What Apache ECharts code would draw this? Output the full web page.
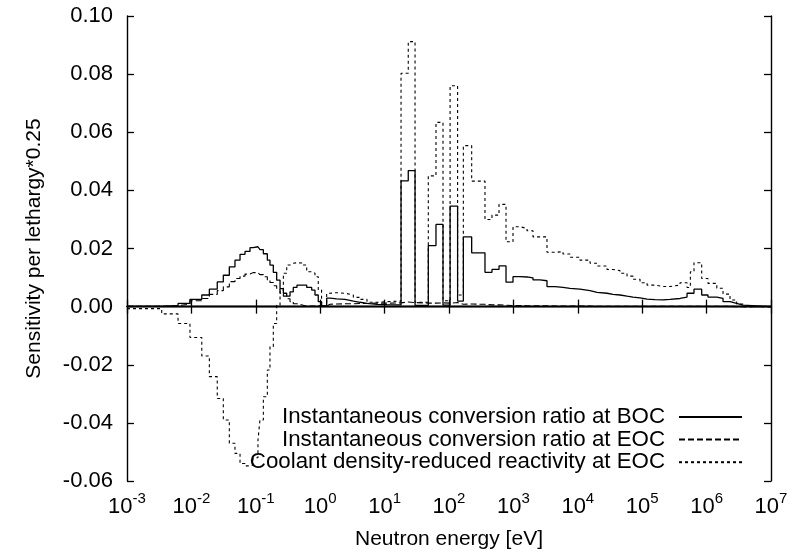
<!DOCTYPE html>
<html>
<head>
<meta charset="utf-8">
<script src="https://cdn.jsdelivr.net/npm/echarts@6/dist/echarts.min.js"></script>
<style>
html,body{margin:0;padding:0;background:#fff;}
#chart{width:792px;height:558px;}
</style>
</head>
<body>
<div id="chart"></div>
<script>
// Bin lower edges (neutron energy, eV); last entry is the upper edge of the last bin
const energyEdges = [
  1.0e-3, 3.46e-3, 6.2e-3, 9.5e-3, 0.0145, 0.019, 0.0252, 0.0313, 0.0388, 0.0475,
  0.0569, 0.068, 0.0813, 0.0905, 0.108, 0.116, 0.131, 0.151, 0.166, 0.187,
  0.211, 0.238, 0.268, 0.302, 0.34, 0.382, 0.436, 0.541, 0.617, 0.738,
  0.83, 0.933, 1.05, 1.26, 1.42, 1.80, 2.43, 3.27, 4.15, 5.33,
  7.62, 10.9, 18.0, 23.3, 29.7, 47.7, 62.8, 80.7, 104, 136,
  167, 225, 362, 465, 598, 768, 986, 1266, 1626, 2015,
  2588, 3323, 4427, 5891, 7566, 1.08e4, 1.55e4, 1.99e4, 2.84e4, 3.52e4,
  4.52e4, 5.81e4, 7.2e4, 9.25e4, 1.19e5, 1.58e5, 2.1e5, 2.7e5, 3.87e5, 4.97e5,
  5.6e5, 6.37e5, 8.39e5, 1.05e6, 1.44e6, 1.8e6, 2.31e6, 2.93e6, 3.67e6, 1.0e7
];
const bocValues = [
  0.0001, 0.0003, 0.0011, 0.0025, 0.0040, 0.0060, 0.0085, 0.0108, 0.0137, 0.0160,
  0.0180, 0.0190, 0.0203, 0.0206, 0.0203, 0.0196, 0.0182, 0.0160, 0.0143, 0.0118,
  0.0091, 0.0062, 0.0046, 0.0036, 0.0051, 0.0066, 0.0074, 0.0074, 0.0066, 0.0057,
  0.0040, 0.0017, 0.0001, 0.0029, 0.0027, 0.0025, 0.0019, 0.0015, 0.0011, 0.0008,
  0.0007, 0.0006, 0.0433, 0.0468, 0.0004, 0.0210, 0.0283, 0.0005, 0.0346, 0.0019,
  0.0240, 0.0185, 0.0118, 0.0128, 0.0140, 0.0084, 0.0103, 0.0102, 0.0099, 0.0092,
  0.0089, 0.0069, 0.0066, 0.0063, 0.0060, 0.0055, 0.0049, 0.0046, 0.0042, 0.0040,
  0.0036, 0.0033, 0.0030, 0.0026, 0.0024, 0.0023, 0.0025, 0.0028, 0.0033, 0.0046,
  0.0046, 0.0060, 0.0040, 0.0033, 0.0028, 0.0017, 0.0011, 0.0005, 0.0000
];
const eocValues = [
  0.0001, 0.0003, 0.0009, 0.0020, 0.0028, 0.0042, 0.0055, 0.0068, 0.0086, 0.0097,
  0.0105, 0.0112, 0.0117, 0.0117, 0.0114, 0.0110, 0.0103, 0.0092, 0.0083, 0.0072,
  0.0060, 0.0046, 0.0036, 0.0027, 0.0017, 0.0010, 0.0005, 0.0002, 0.0002, 0.0002,
  0.0003, 0.0003, 0.0002, 0.0008, 0.0009, 0.0010, 0.0010, 0.0011, 0.0011, 0.0012,
  0.0012, 0.0013, 0.0016, 0.0014, 0.0012, 0.0012, 0.0013, 0.0012, 0.0014, 0.0008,
  0.0009, 0.0008, 0.0006, 0.0006, 0.0005, 0.0004, 0.0004, 0.0003, 0.0003, 0.0003,
  0.0003, 0.0002, 0.0002, 0.0002, 0.0002, 0.0002, 0.0001, 0.0001, 0.0001, 0.0001,
  0.0001, 0.0001, 0.0001, 0.0001, 0.0001, 0.0001, 0.0001, 0.0001, 0.0001, 0.0001,
  0.0001, 0.0001, 0.0001, 0.0001, 0.0001, 0.0001, 0.0000, 0.0000, 0.0000
];
const coolantValues = [
  -0.0007, -0.0025, -0.0058, -0.0106, -0.0170, -0.0241, -0.0316, -0.0390, -0.0470, -0.0505,
  -0.0540, -0.0548, -0.0545, -0.0520, -0.0460, -0.0390, -0.0310, -0.0218, -0.0138, -0.0058,
  0.0005, 0.0057, 0.0115, 0.0143, 0.0149, 0.0151, 0.0150, 0.0143, 0.0120, 0.0115,
  0.0103, 0.0057, 0.0003, 0.0046, 0.0048, 0.0046, 0.0040, 0.0032, 0.0025, 0.0015,
  0.0017, 0.0019, 0.0803, 0.0912, 0.0015, 0.0450, 0.0634, 0.0020, 0.0760, 0.0040,
  0.0554, 0.0432, 0.0300, 0.0315, 0.0352, 0.0223, 0.0275, 0.0269, 0.0261, 0.0240,
  0.0240, 0.0187, 0.0189, 0.0181, 0.0170, 0.0160, 0.0149, 0.0140, 0.0128, 0.0124,
  0.0115, 0.0105, 0.0094, 0.0082, 0.0074, 0.0069, 0.0069, 0.0074, 0.0082, 0.0066,
  0.0120, 0.0151, 0.0097, 0.0080, 0.0063, 0.0043, 0.0023, 0.0009, 0.0000
];
const seriesNames = [
  'Instantaneous conversion ratio at BOC',
  'Instantaneous conversion ratio at EOC',
  'Coolant density-reduced reactivity at EOC'
];
const xTitle = 'Neutron energy [eV]';
const yTitle = 'Sensitivity per lethargy*0.25';

function stepData(vals) {
  const d = vals.map((v, i) => [energyEdges[i], v]);
  d.push([energyEdges[energyEdges.length - 1], vals[vals.length - 1]]);
  return d;
}

const FONT = 'Liberation Sans, Arial, Helvetica, sans-serif';
const chart = echarts.init(document.getElementById('chart'), null, {renderer: 'canvas'});

const axisLineStyle = {color: '#000', width: 1.4};
const tickStyle = {show: true, inside: true, length: 7, lineStyle: {color: '#000', width: 1.3}};
const supRich = {
  b: {fontSize: 22, fontFamily: FONT, color: '#000', lineHeight: 27, verticalAlign: 'bottom'},
  s: {fontSize: 15, fontFamily: FONT, color: '#000', lineHeight: 15, verticalAlign: 'top'}
};

const option = {
  animation: false,
  backgroundColor: '#fff',
  textStyle: {fontFamily: FONT},
  grid: {left: 127, right: 21, top: 16, bottom: 77, containLabel: false},
  legend: {
    orient: 'vertical',
    right: 44,
    top: 401,
    align: 'right',
    itemWidth: 63,
    itemHeight: 14,
    itemGap: 0.6,
    data: seriesNames,
    itemStyle: {color: 'rgba(0,0,0,0)', borderColor: 'rgba(0,0,0,0)', borderWidth: 0, opacity: 0},
    textStyle: {fontSize: 22.3, lineHeight: 22, fontFamily: FONT, color: '#000', padding: [0, 9, 0, 0]},
    selectedMode: false
  },
  xAxis: [
    {
      type: 'log', logBase: 10, min: 1e-3, max: 1e7, interval: 1,
      position: 'bottom',
      name: xTitle, nameLocation: 'middle', nameGap: 48,
      nameTextStyle: {fontSize: 21, fontFamily: FONT, color: '#000'},
      axisLine: {show: true, lineStyle: axisLineStyle},
      axisTick: tickStyle,
      minorTick: {show: false},
      splitLine: {show: false},
      axisLabel: {
        margin: 10,
        formatter: function (v) {
          const e = Math.round(Math.log10(v));
          return '{b|10}{s|' + e + '}';
        },
        rich: supRich
      }
    },
    {
      type: 'log', logBase: 10, min: 1e-3, max: 1e7, interval: 1,
      position: 'top',
      axisLine: {show: true, lineStyle: axisLineStyle},
      axisTick: tickStyle,
      axisLabel: {show: false},
      splitLine: {show: false}
    }
  ],
  yAxis: [
    {
      type: 'value', min: -0.06, max: 0.10, interval: 0.02,
      position: 'left',
      name: yTitle, nameLocation: 'middle', nameGap: 82,
      nameTextStyle: {fontSize: 21, fontFamily: FONT, color: '#000'},
      axisLine: {show: true, lineStyle: axisLineStyle},
      axisTick: tickStyle,
      splitLine: {show: false},
      axisLabel: {
        margin: 14, fontSize: 22, fontFamily: FONT, color: '#000',
        formatter: function (v) { return v.toFixed(2); }
      }
    },
    {
      type: 'value', min: -0.06, max: 0.10, interval: 0.02,
      position: 'right',
      axisLine: {show: true, lineStyle: axisLineStyle},
      axisTick: tickStyle,
      splitLine: {show: false},
      axisLabel: {show: false}
    }
  ],
  series: [
    {
      name: seriesNames[0], type: 'line', step: 'end', symbol: 'none',
      data: stepData(bocValues),
      lineStyle: {color: '#000', width: 1.3, type: 'solid'},
      itemStyle: {color: '#000'},
      markLine: {
        silent: true, symbol: ['none', 'none'], label: {show: false},
        lineStyle: {color: '#000', width: 1.3, type: 'solid'},
        data: [{yAxis: 0}]
      }
    },
    {
      name: seriesNames[1], type: 'line', step: 'end', symbol: 'none',
      data: stepData(eocValues),
      lineStyle: {color: '#000', width: 1.1, type: [6, 3]},
      itemStyle: {color: '#000'}
    },
    {
      name: seriesNames[2], type: 'line', step: 'end', symbol: 'none',
      data: stepData(coolantValues),
      lineStyle: {color: '#000', width: 1.1, type: [3, 3]},
      itemStyle: {color: '#000'}
    }
  ]
};
chart.setOption(option);
</script>
</body>
</html>
